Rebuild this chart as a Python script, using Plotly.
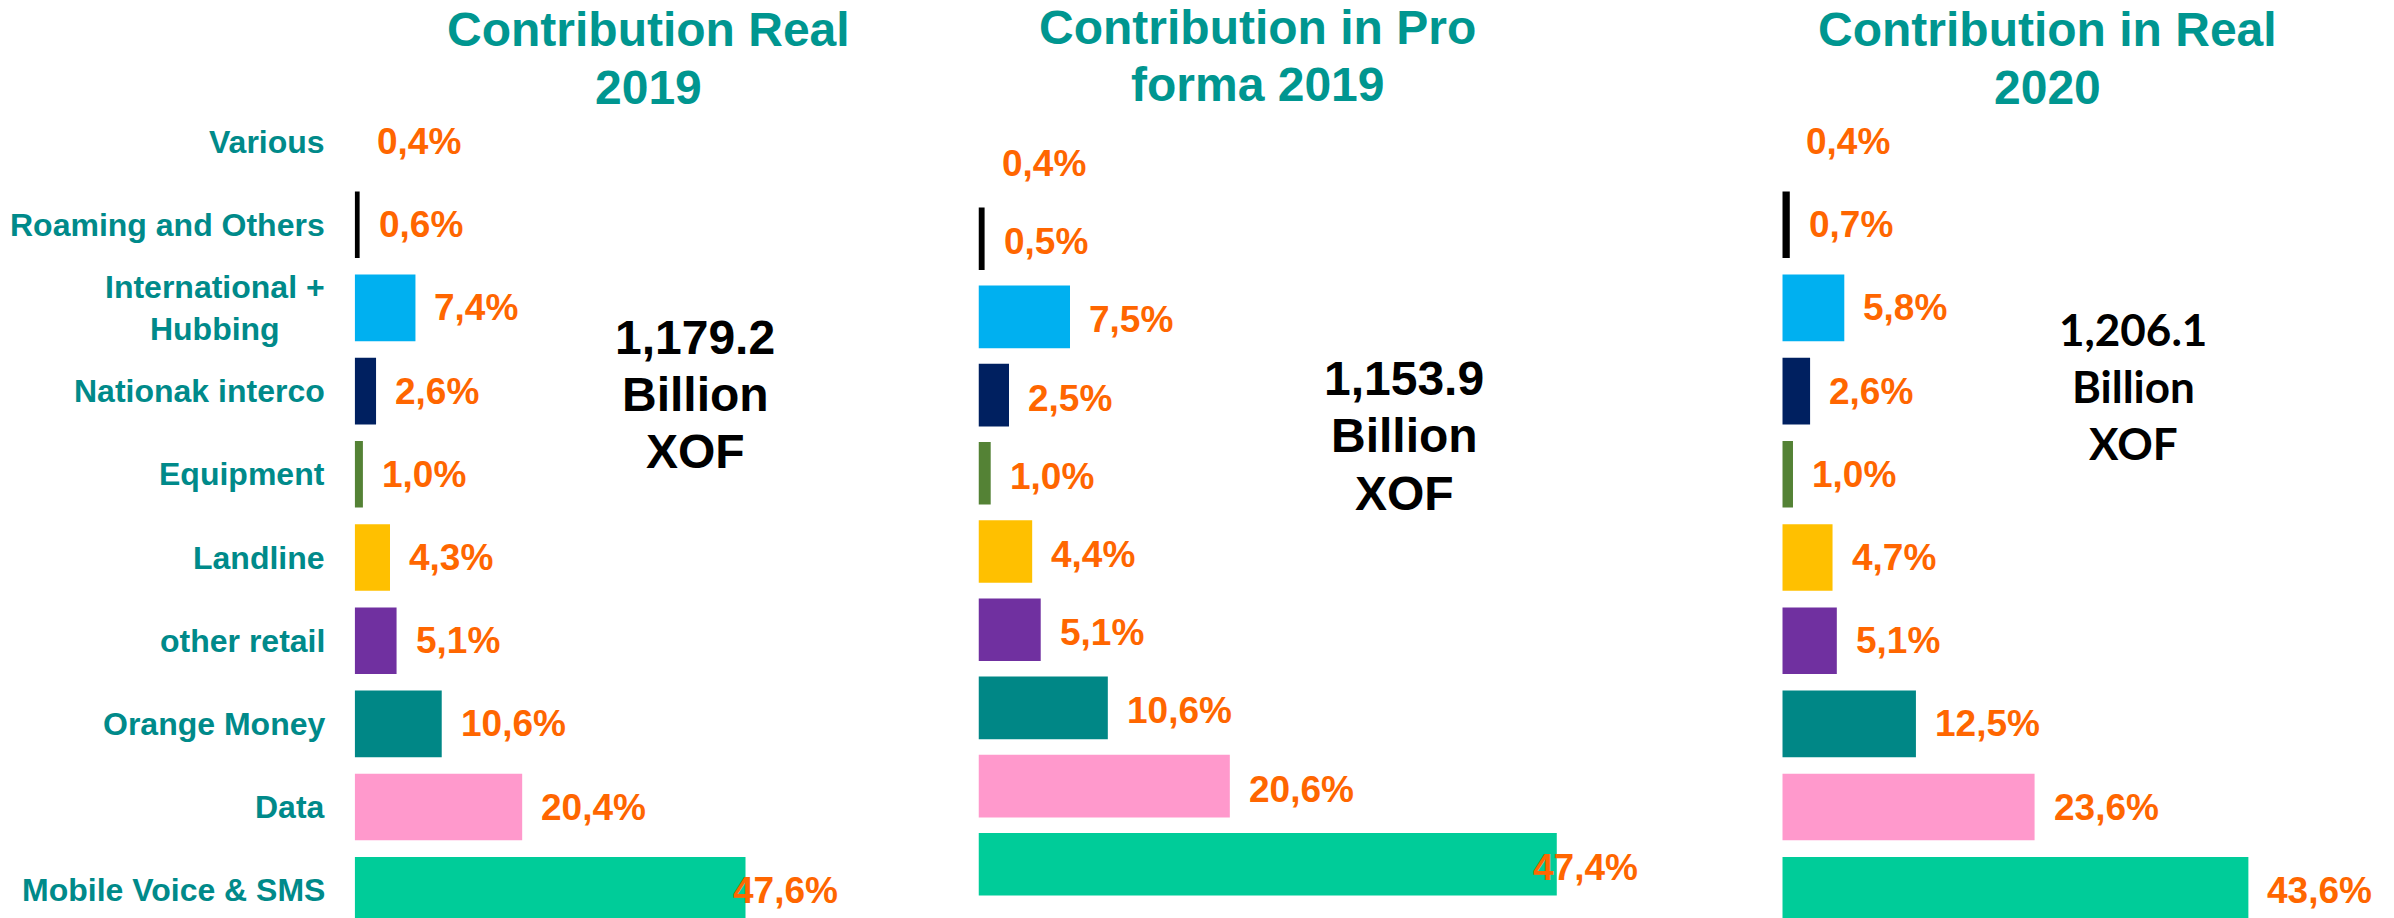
import plotly.graph_objects as go

W, H = 2394, 918

# Revenue lines, top to bottom
categories = [
    "Various",
    "Roaming and Others",
    "International +<br>Hubbing",
    "Nationak interco",
    "Equipment",
    "Landline",
    "other retail",
    "Orange Money",
    "Data",
    "Mobile Voice & SMS",
]

# Share of revenue (%) per line
share_real_2019 = [0.4, 0.6, 7.4, 2.6, 1.0, 4.3, 5.1, 10.6, 20.4, 47.6]
share_proforma_2019 = [0.4, 0.5, 7.5, 2.5, 1.0, 4.4, 5.1, 10.6, 20.6, 47.4]
share_real_2020 = [0.4, 0.7, 5.8, 2.6, 1.0, 4.7, 5.1, 12.5, 23.6, 43.6]

panel_titles = [
    ["Contribution Real", "2019"],
    ["Contribution in Pro", "forma 2019"],
    ["Contribution in Real", "2020"],
]
panel_totals = ["1,179.2", "1,153.9", "1,206.1"]
total_unit = ["Billion", "XOF"]

bar_colors = [
    "rgba(0,0,0,0)", "#000000", "#00B0F0", "#002060", "#548235",
    "#FFC000", "#7030A0", "#008786", "#FF99CC", "#00CC99",
]

TITLE_TEAL = "#009690"
LABEL_TEAL = "#008A8A"
ORANGE = "#FF6600"
FONT = "Arial, Liberation Sans, sans-serif"


def px_x(x):
    return x / W


def px_y(y):
    return 1 - y / H


# Panel geometry (pixel space): x domain, x range max, y domain, y range
panels = [
    dict(values=share_real_2019, xd=(354.7, 840), xmax=(840 - 354.7) / 8.21,
         yd=(918, 99.9), yr=[9.333, -0.5], label_dy=0),
    dict(values=share_proforma_2019, xd=(978.5, 1640), xmax=(1640 - 978.5) / 12.2,
         yd=(903.4, 121.4), yr=[9.5, -0.5], label_dy=-3),
    dict(values=share_real_2020, xd=(1782.3, 2394), xmax=(2394 - 1782.3) / 10.69,
         yd=(918, 99.9), yr=[9.333, -0.5], label_dy=0),
]

fig = go.Figure()
annotations = []

for i, p in enumerate(panels):
    n = "" if i == 0 else str(i + 1)
    xa, ya = "x" + n, "y" + n
    fig.add_trace(go.Bar(
        x=p["values"], y=categories, orientation="h",
        marker=dict(color=bar_colors, line=dict(width=0)),
        xaxis=xa, yaxis=ya, showlegend=False, hoverinfo="skip",
    ))

    x_dom = [px_x(p["xd"][0]), px_x(p["xd"][1])]
    y_dom = [px_y(p["yd"][0]), px_y(p["yd"][1])]
    fig.layout["xaxis" + n] = dict(
        domain=x_dom, range=[0, p["xmax"]], visible=False, fixedrange=True,
        anchor=ya,
    )
    fig.layout["yaxis" + n] = dict(
        domain=y_dom, range=p["yr"], type="category",
        categoryorder="array", categoryarray=categories,
        anchor=xa, showgrid=False, zeroline=False, showline=False, ticks="",
        showticklabels=False,
    )

    # Value labels next to each bar; the widest one is kept inside the plot
    span_px = p["xd"][1] - p["xd"][0]
    px_per_unit = span_px / p["xmax"]
    for cat, v in zip(categories, p["values"]):
        txt = f"{v:.1f}".replace(".", ",") + "%"
        est_w = len(txt) * 21
        common = dict(
            y=cat, yref=ya, text=txt, yanchor="middle", showarrow=False,
            yshift=p["label_dy"],
            font=dict(family=FONT, size=37, color=ORANGE, weight="bold"),
        )
        if v * px_per_unit + 17 + est_w > span_px:
            annotations.append(dict(x=1, xref=xa + " domain", xanchor="right",
                                    **common))
        else:
            annotations.append(dict(x=v, xref=xa, xshift=17, xanchor="left",
                                    **common))

# Category names beside the first panel, centred line by line
for cat in categories:
    annotations.append(dict(
        x=px_x(327), xref="paper", y=cat, yref="y", text=cat,
        xanchor="right", yanchor="middle", align="center", showarrow=False,
        font=dict(family=FONT, size=32, color=LABEL_TEAL, weight="bold"),
    ))

# Panel titles
title_centers = [648, 1257, 2047]
title_rows = [(29, 87), (26, 83), (29, 87)]
for cx, rows, lines in zip(title_centers, title_rows, panel_titles):
    for cy, line in zip(rows, lines):
        annotations.append(dict(
            x=px_x(cx), y=px_y(cy + 1), xref="paper", yref="paper", text=line,
            xanchor="center", yanchor="middle", showarrow=False,
            font=dict(family=FONT, size=48, color=TITLE_TEAL, weight="bold"),
        ))

# Total revenue callouts
total_pos = [(695, 336, 56.5), (1404, 376, 57.5), (2133, 327, 57)]
total_fonts = [(FONT, 48), (FONT, 48), ("Lato, sans-serif", 44)]
for (cx, cy, step), (fam, fs), total in zip(total_pos, total_fonts, panel_totals):
    for k, line in enumerate([total] + total_unit):
        annotations.append(dict(
            x=px_x(cx), y=px_y(cy + k * step + 2), xref="paper", yref="paper",
            text=line, xanchor="center", yanchor="middle", showarrow=False,
            font=dict(family=fam, size=fs, color="#000000", weight="bold"),
        ))

fig.update_layout(
    width=W, height=H,
    margin=dict(l=0, r=0, t=0, b=0),
    paper_bgcolor="white", plot_bgcolor="white",
    bargap=0.2,
    annotations=annotations,
)

fig.write_html("out.html", config={"displayModeBar": False})
